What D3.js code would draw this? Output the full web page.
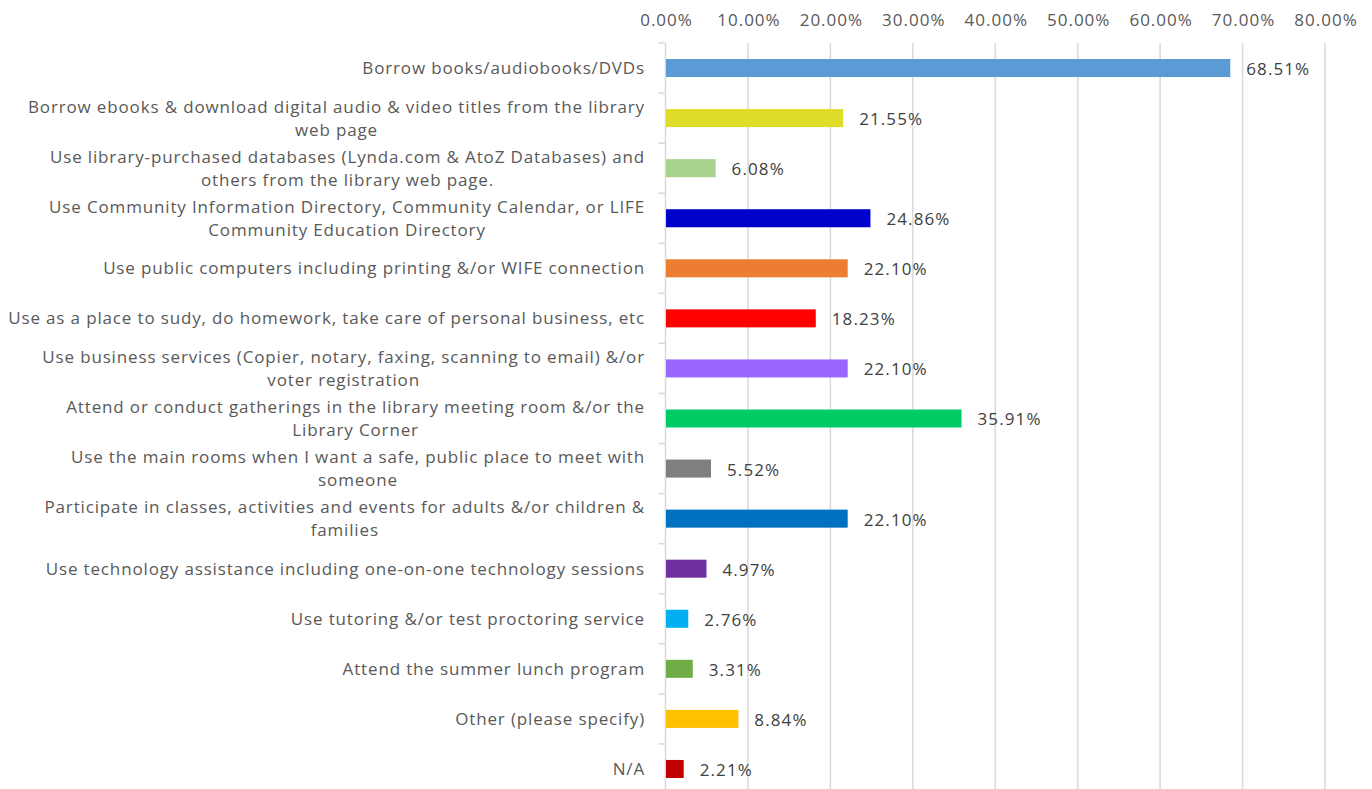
<!DOCTYPE html>
<html><head><meta charset="utf-8">
<script src="https://cdn.jsdelivr.net/npm/d3@7"></script>
<style>
html,body{margin:0;padding:0;background:#fff;}
svg{display:block;}
text{font-family:"Open Sans","Noto Sans",sans-serif;}
</style></head>
<body>
<svg id="chart" width="1372" height="789"></svg>
<script>
const categories = [
  "Borrow books/audiobooks/DVDs",
  "Borrow ebooks & download digital audio & video titles from the library\nweb page",
  "Use library-purchased databases (Lynda.com & AtoZ Databases) and\nothers from the library web page.",
  "Use Community Information Directory, Community Calendar, or LIFE\nCommunity Education Directory",
  "Use public computers including printing &/or WIFE connection",
  "Use as a place to sudy, do homework, take care of personal business, etc",
  "Use business services (Copier, notary, faxing, scanning to email) &/or\nvoter registration",
  "Attend or conduct gatherings in the library meeting room &/or the\nLibrary Corner",
  "Use the main rooms when I want a safe, public place to meet with\nsomeone",
  "Participate in classes, activities and events for adults &/or children &\nfamilies",
  "Use technology assistance including one-on-one technology sessions",
  "Use tutoring &/or test proctoring service",
  "Attend the summer lunch program",
  "Other (please specify)",
  "N/A"
];
const values = [68.51, 21.55, 6.08, 24.86, 22.10, 18.23, 22.10, 35.91, 5.52, 22.10, 4.97, 2.76, 3.31, 8.84, 2.21];
const colors = ["#5B9BD5","#DFDC2A","#A9D18E","#0000CC","#ED7D31","#FF0000","#9966FF","#00CC66","#7F7F7F","#0070C0","#7030A0","#00B0F0","#70AD47","#FFC000","#C00000"];
const tickValues = [0,10,20,30,40,50,60,70,80];

const svg = d3.select("#chart");
const x = d3.scaleLinear().domain([0,80]).range([665.5,1325]);
const y = d3.scaleBand().domain(d3.range(categories.length)).range([43,794]).paddingInner(0.64).paddingOuter(0.32);

// gridlines
svg.append("g").selectAll("line").data(tickValues.slice(1)).join("line")
  .attr("x1",d=>x(d)).attr("x2",d=>x(d)).attr("y1",43).attr("y2",789)
  .attr("stroke","#d9d9d9").attr("stroke-width",1.5);

// top axis labels
const xAxis = d3.axisTop(x).tickValues(tickValues).tickFormat(d=>d3.format(".2f")(d)+"%").tickSize(0).tickPadding(0);
const gx = svg.append("g").attr("transform","translate(0,26)").call(xAxis);
gx.select(".domain").remove();
gx.selectAll("text").attr("fill","#595959").attr("dx","0.5")
  .style("font-size","17px").style("letter-spacing","1px")
  .style("font-family","'Open Sans','Noto Sans',sans-serif");

// category axis line & ticks
const step = y.step();
svg.append("line").attr("x1",x(0)).attr("x2",x(0)).attr("y1",43).attr("y2",789).attr("stroke","#d9d9d9").attr("stroke-width",1.5);
svg.append("g").selectAll("line").data(d3.range(categories.length+1)).join("line")
  .attr("x1",x(0)-7).attr("x2",x(0)).attr("y1",i=>43+i*step).attr("y2",i=>43+i*step)
  .attr("stroke","#d9d9d9").attr("stroke-width",1.5);

// bars
svg.append("g").selectAll("rect").data(values).join("rect")
  .attr("x",x(0)+0.5).attr("y",(d,i)=>y(i)).attr("width",d=>x(d)-x(0)-0.5).attr("height",y.bandwidth())
  .attr("fill",(d,i)=>colors[i]);

// value labels
svg.append("g").selectAll("text").data(values).join("text")
  .attr("x",d=>x(d)+16).attr("y",(d,i)=>y(i)+y.bandwidth()/2+1).attr("dy","0.35em")
  .attr("fill","#404040").style("font-size","17px").style("letter-spacing","1.1px")
  .text(d=>d3.format(".2f")(d)+"%");

// category labels
const labelRight = 645;
const lineH = 23;
const lg = svg.append("g");
categories.forEach((c,i)=>{
  const lines = c.split("\n");
  const cy = y(i)+y.bandwidth()/2;
  const g = lg.append("g");
  const texts = lines.map((l,j)=>g.append("text")
    .attr("y", cy + (j-(lines.length-1)/2)*lineH).attr("dy","0.35em")
    .attr("fill","#595959").style("font-size","17px").style("letter-spacing","0.85px").text(l));
  const maxW = d3.max(texts, t=>t.node().getBBox().width);
  texts.forEach(t=>t.attr("text-anchor","middle").attr("x", labelRight - maxW/2));
});
</script>
</body></html>
